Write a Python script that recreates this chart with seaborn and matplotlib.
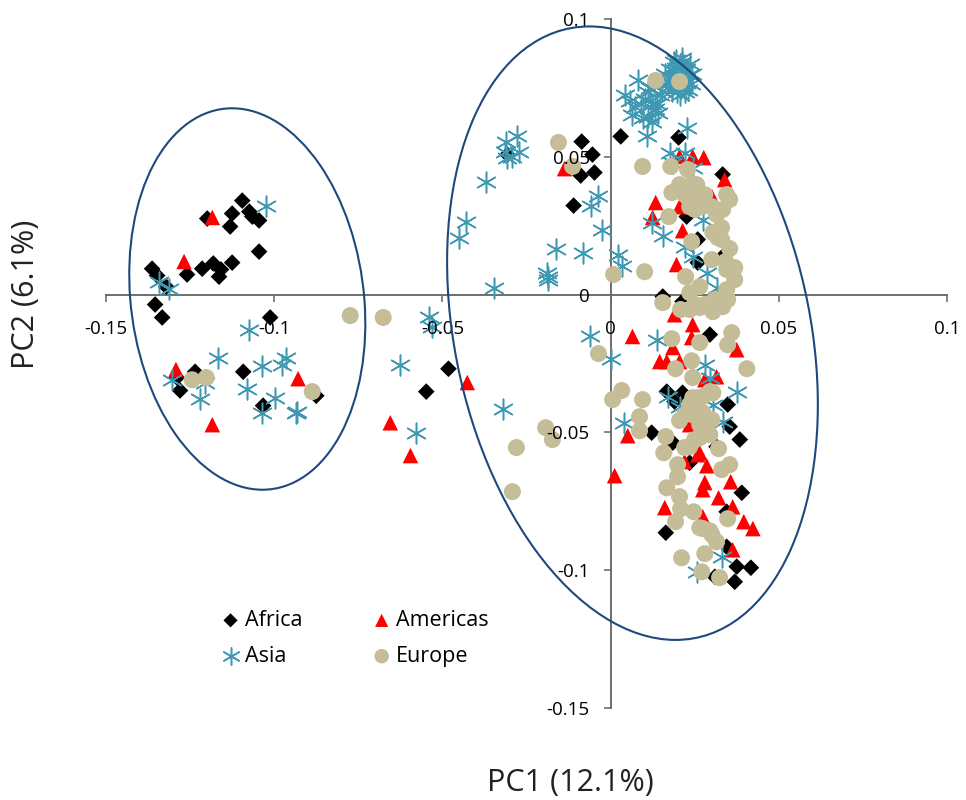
import numpy as np
import pandas as pd
import matplotlib
matplotlib.use("Agg")
import matplotlib.pyplot as plt
from matplotlib.patches import Circle
from matplotlib.transforms import Affine2D
import seaborn as sns

africa_x = [-0.1095,-0.1074,-0.1125,-0.1065,-0.1045,-0.1131,-0.1199,-0.1045,-0.1125,-0.1181,-0.1214,-0.1259,-0.1164,-0.1158,-0.1363,-0.1348,-0.1321,-0.1354,-0.1333,-0.1012,-0.1235,-0.1289,-0.1280,-0.1092,-0.1033,-0.0875,
            -0.0482,-0.0548,-0.0086,-0.0054,-0.0048,-0.0089,-0.0110,0.0030,0.0202,0.0333,0.0226,-0.0307,0.0259,0.0333,0.0259,0.0155,0.0214,
            0.0295,0.0167,0.0214,0.0190,0.0348,0.0122,0.0185,0.0354,0.0384,0.0315,0.0390,0.0164,0.0345,0.0375,0.0417,0.0369,0.0310,0.0345,0.0235]
africa_y = [0.0341,0.0301,0.0294,0.0283,0.0269,0.0247,0.0276,0.0156,0.0116,0.0113,0.0094,0.0073,0.0065,0.0091,0.0094,0.0069,0.0029,-0.0036,-0.0083,-0.0083,-0.0280,-0.0301,-0.0348,-0.0280,-0.0403,-0.0367,
            -0.0269,-0.0352,0.0555,0.0508,0.0443,0.0432,0.0323,0.0574,0.0570,0.0436,0.0283,0.0508,0.0116,0.0138,0.0200,-0.0007,-0.0025,
            -0.0145,-0.0352,-0.0356,-0.0388,-0.0399,-0.0501,-0.0537,-0.0479,-0.0526,-0.0552,-0.0719,-0.0864,-0.0788,-0.0987,-0.0991,-0.1042,-0.1024,-0.0915,-0.0610]

americas_x = [-0.1184,-0.1268,-0.1292,-0.0929,-0.1184,-0.0426,-0.0655,-0.0595,-0.0137,0.0205,0.0244,0.0277,0.0339,0.0134,0.0125,0.0205,0.0214,0.0301,0.0196,
              0.0065,0.0185,0.0146,0.0167,0.0205,0.0244,0.0241,0.0190,0.0375,0.0315,0.0280,0.0051,0.0265,0.0235,
              0.0012,0.0259,0.0286,0.0280,0.0274,0.0357,0.0321,0.0363,0.0161,0.0274,0.0396,0.0423,0.0363,0.0220,0.0211]
americas_y = [0.0280,0.0120,-0.0272,-0.0305,-0.0472,-0.0319,-0.0465,-0.0584,0.0457,0.0501,0.0501,0.0497,0.0417,0.0334,0.0280,0.0319,0.0232,0.0356,0.0109,
              -0.0152,-0.0192,-0.0243,-0.0243,-0.0243,-0.0109,-0.0156,-0.0073,-0.0200,-0.0298,-0.0309,-0.0512,-0.0574,-0.0472,
              -0.0657,-0.0581,-0.0621,-0.0682,-0.0708,-0.0679,-0.0737,-0.0770,-0.0773,-0.0806,-0.0824,-0.0849,-0.0926,-0.0606,-0.0762]

asia_x = [-0.1024,-0.1342,-0.1312,-0.1074,-0.1167,-0.1303,-0.1205,-0.1220,-0.1080,-0.1036,-0.0976,-0.0964,-0.0997,-0.1036,-0.0931,-0.0934,
          -0.0539,-0.0530,-0.0625,-0.0577,-0.0321,-0.0369,-0.0310,-0.0277,-0.0271,-0.0307,-0.0315,-0.0292,-0.0429,-0.0452,-0.0161,-0.0083,-0.0190,-0.0187,-0.0187,-0.0348,
          -0.0036,-0.0057,-0.0027,0.0021,0.0033,
          0.0057,0.0042,0.0080,0.0065,0.0101,0.0116,0.0131,0.0110,0.0146,0.0161,0.0107,0.0122,0.0226,0.0176,0.0190,0.0205,0.0214,0.0199,0.0220,0.0235,0.0211,0.0182,0.0170,0.0229,0.0205,0.0241,0.0193,0.0217,
          0.0155,0.0122,0.0176,0.0220,0.0244,0.0185,0.0274,0.0220,0.0244,0.0286,0.0315,
          -0.0062,0.0000,0.0137,0.0280,0.0295,0.0375,0.0170,0.0205,0.0304,0.0333,0.0039,0.0256,0.0330,
          0.0180,0.0188,0.0195,0.0203,0.0210,0.0218,0.0225,0.0232,0.0184,0.0192,0.0200,0.0208,0.0216,0.0224,0.0196,0.0204,0.0212,0.0187,0.0222,0.0240,
          0.0072,0.0090,0.0112,0.0124,0.0138,0.0152,0.0095,0.0140]
asia_y = [0.0323,0.0044,0.0022,-0.0127,-0.0229,-0.0309,-0.0319,-0.0378,-0.0341,-0.0258,-0.0254,-0.0229,-0.0374,-0.0428,-0.0425,-0.0428,
          -0.0080,-0.0116,-0.0254,-0.0501,-0.0414,0.0407,0.0552,0.0574,0.0519,0.0497,0.0519,0.0501,0.0265,0.0207,0.0167,0.0152,0.0080,0.0065,0.0054,0.0025,
          0.0359,0.0323,0.0236,0.0145,0.0102,
          0.0701,0.0726,0.0780,0.0653,0.0708,0.0751,0.0672,0.0643,0.0726,0.0799,0.0574,0.0628,0.0606,0.0817,0.0788,0.0835,0.0810,0.0762,0.0780,0.0835,0.0860,0.0751,0.0773,0.0744,0.0726,0.0799,0.0853,0.0762,
          0.0211,0.0261,0.0515,0.0515,0.0461,0.0479,0.0272,0.0174,0.0138,0.0080,0.0025,
          -0.0149,-0.0232,-0.0163,-0.0254,-0.0301,-0.0352,-0.0370,-0.0407,-0.0399,-0.0461,-0.0465,-0.1006,-0.0951,
          0.0770,0.0795,0.0822,0.0758,0.0790,0.0812,0.0768,0.0798,0.0740,0.0775,0.0805,0.0748,0.0792,0.0820,0.0735,0.0765,0.0845,0.0845,0.0735,0.0765,
          0.0680,0.0690,0.0735,0.0690,0.0690,0.0740,0.0640,0.0660]

europe_x = [-0.0774,-0.0676,-0.1244,-0.1202,-0.0887,-0.0193,-0.0173,-0.0280,-0.0292,-0.0155,-0.0113,0.0134,0.0205,0.0095,0.0009,0.0101,
            0.0179,0.0229,0.0205,0.0182,0.0241,0.0244,0.0271,0.0235,0.0173,0.0345,0.0354,0.0333,0.0315,0.0304,0.0330,0.0354,0.0241,0.0301,0.0345,0.0369,0.0223,0.0265,0.0235,0.0345,
            0.0155,0.0208,0.0265,0.0304,0.0333,0.0360,0.0348,0.0405,0.0182,0.0265,0.0241,0.0193,0.0244,-0.0036,0.0033,0.0006,0.0095,0.0086,0.0086,0.0244,0.0304,0.0274,0.0244,0.0205,0.0274,0.0295,0.0265,0.0235,0.0164,0.0158,0.0321,
            0.0354,0.0330,0.0199,0.0199,0.0167,0.0205,0.0208,0.0247,0.0193,0.0348,0.0274,0.0295,0.0315,0.0280,0.0211,0.0271,0.0324,
            0.0220,0.0256,0.0280,0.0301,0.0250,0.0330,0.0318,0.0342,0.0369,0.0348,0.0310,0.0280,0.0250,0.0235,
            0.0259,0.0295,0.0235,0.0220,0.0265,0.0301,0.0280,0.0250,0.0220,0.0301,0.0265]
europe_y = [-0.0076,-0.0083,-0.0309,-0.0301,-0.0352,-0.0483,-0.0526,-0.0555,-0.0715,0.0552,0.0465,0.0777,0.0773,0.0465,0.0073,0.0083,
            0.0465,0.0454,0.0399,0.0370,0.0399,0.0345,0.0319,0.0319,0.0283,0.0363,0.0345,0.0309,0.0290,0.0225,0.0200,0.0167,0.0192,0.0127,0.0091,0.0054,0.0065,0.0029,0.0007,0.0018,
            -0.0029,-0.0054,-0.0047,-0.0062,-0.0044,-0.0138,-0.0182,-0.0269,-0.0160,-0.0174,-0.0240,-0.0269,-0.0301,-0.0214,-0.0348,-0.0381,-0.0381,-0.0443,-0.0494,-0.0374,-0.0356,-0.0370,-0.0436,-0.0457,-0.0428,-0.0508,-0.0519,-0.0552,-0.0515,-0.0574,-0.0559,
            -0.0617,-0.0635,-0.0617,-0.0661,-0.0701,-0.0733,-0.0777,-0.0788,-0.0824,-0.0813,-0.0849,-0.0857,-0.0897,-0.0940,-0.0955,-0.1006,-0.1027,
            0.0363,0.0399,0.0363,0.0319,0.0309,0.0243,0.0207,0.0120,0.0098,-0.0018,-0.0018,-0.0036,-0.0036,-0.0054,
            -0.0374,-0.0352,-0.0399,-0.0436,-0.0472,-0.0454,-0.0490,-0.0526,-0.0555,-0.0871,-0.0846]

x_ticks = [-0.15, -0.1, -0.05, 0, 0.05, 0.1]
x_tick_labels = ["-0.15", "-0.1", "-0.05", "0", "0.05", "0.1"]
y_ticks = [-0.15, -0.1, -0.05, 0, 0.05, 0.1]
y_tick_labels = ["-0.15", "-0.1", "-0.05", "0", "0.05", "0.1"]

sns.set_style("white")
plt.rcParams["font.family"] = ["Open Sans", "DejaVu Sans"]

fig = plt.figure(figsize=(9.66, 8), dpi=100)
ax = fig.add_axes([106/966, 1-708/800, 841/966, 689/800])

groups = [
    ("Africa", africa_x, africa_y, "D", 72, "black", None),
    ("Americas", americas_x, americas_y, "^", 125, "#FF0000", None),
    ("Asia", asia_x, asia_y, (6, 2, 0), 220, "#3F98B2", 1.1),
    ("Europe", europe_x, europe_y, "o", 150, "#C4BD97", None),
]
for name, xs, ys, mk, s, col, lw in groups:
    df = pd.DataFrame({"x": xs, "y": ys})
    kw = dict(linewidth=lw, color=col) if lw else dict(color=col, edgecolor="none")
    sns.scatterplot(data=df, x="x", y="y", marker=mk, s=s, ax=ax, label=name,
                    clip_on=False, zorder=2, **kw)

ax.set_xlim(-0.15, 0.1)
ax.set_ylim(-0.15, 0.1)

# enclosing ellipses: unit circles mapped by (a_x, b_x, b_y, centre)
for a, b, c, cx, cy in [(0.0348, -0.0045, 0.0692, -0.1080, -0.0016),
                        (0.0536, -0.0128, 0.1113, 0.0065, -0.0140)]:
    ax.add_patch(Circle((0, 0), 1, fill=False, ec="#1F497D", lw=1.5, zorder=3, clip_on=False,
                        transform=Affine2D.from_values(a, 0, b, c, cx, cy) + ax.transData))

for side in ("top", "right"):
    ax.spines[side].set_visible(False)
ax.spines["left"].set_position(("data", 0))
ax.spines["bottom"].set_position(("data", 0))
for side in ("left", "bottom"):
    ax.spines[side].set_color("#6E6E6E")
    ax.spines[side].set_linewidth(1.4)
    ax.spines[side].set_zorder(0.5)

ax.set_axisbelow(False)
ax.set_xticks(x_ticks, x_tick_labels)
ax.set_yticks(y_ticks, y_tick_labels)
ax.tick_params(axis="both", direction="out", length=5, width=1.2, color="#6E6E6E",
               labelsize=13.5, labelcolor="black", bottom=True, left=True)
ax.tick_params(axis="x", pad=13)
ax.tick_params(axis="y", pad=10)
ax.grid(False)

ax.set_xlabel("PC1 (12.1%)", fontsize=22, color="#222222")
ax.xaxis.set_label_coords((570-106)/841, -(783-708)/689, transform=ax.transAxes)
ax.xaxis.label.set_va("center")
ax.set_ylabel("PC2 (6.1%)", fontsize=22, color="#222222")
ax.yaxis.set_label_coords((26-106)/841, 1-(294-19)/689, transform=ax.transAxes)
ax.yaxis.label.set_va("center")

handles, labels = ax.get_legend_handles_labels()
order = [0, 2, 1, 3]
leg = ax.legend([handles[i] for i in order], [labels[i] for i in order],
                loc="upper left", bbox_to_anchor=((209-106)/841, 1-(610-19)/689),
                ncol=2, frameon=False, fontsize=15.5, markerscale=0.85,
                columnspacing=2.7, handletextpad=-0.35, labelspacing=0.69,
                borderpad=0, borderaxespad=0, labelcolor="black")

fig.savefig("out.png", dpi=100)
